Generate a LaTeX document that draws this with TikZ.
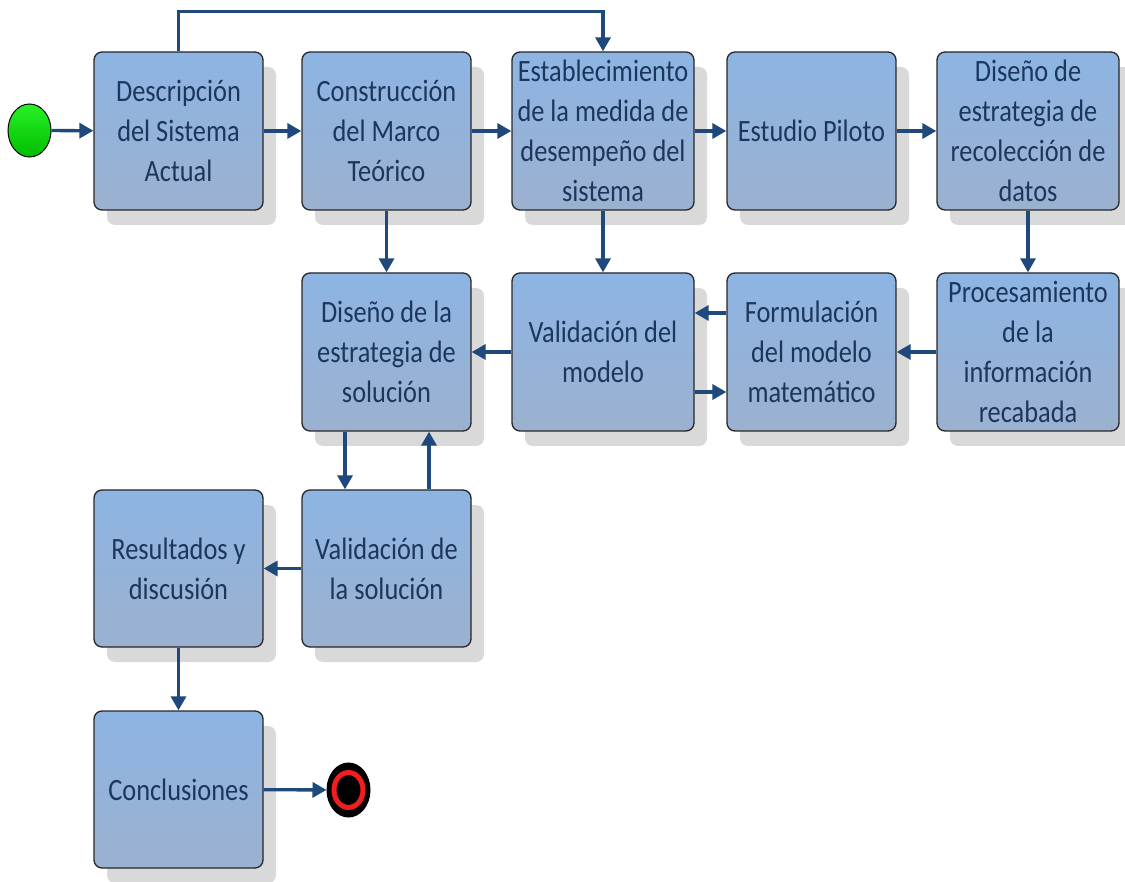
\documentclass[tikz,border=0pt]{standalone}
\usepackage{fontspec}
\setmainfont{Carlito}
\newfontfamily\condfont[FakeStretch=0.85]{Carlito}
\usetikzlibrary{arrows.meta,shapes.geometric,shadows}
\definecolor{boxtop}{RGB}{141,180,227}
\definecolor{boxbot}{RGB}{155,177,208}
\definecolor{txt}{RGB}{28,54,92}
\definecolor{arrc}{RGB}{31,73,125}
\definecolor{shad}{RGB}{217,217,217}
\definecolor{sgreen1}{RGB}{40,240,40}
\definecolor{sgreen2}{RGB}{0,190,0}
\definecolor{ered}{RGB}{240,30,30}
\tikzset{
  proc/.style={draw=black!85, line width=1.3pt, rounded corners=8pt,
    top color=boxtop, bottom color=boxbot,
    drop shadow={shadow xshift=13pt, shadow yshift=-15pt, fill=shad, opacity=1},
    minimum width=169pt, minimum height=158pt, inner sep=0pt,
    align=center, text=txt,
    font=\condfont\fontsize{31}{40}\selectfont},
  wide/.style={minimum width=182pt},
  arr/.style={draw=arrc, line width=3.3pt, -{Triangle[length=14pt,width=15pt]}},
}
\begin{document}
\begin{tikzpicture}[x=1pt,y=-1pt]
\useasboundingbox (0,0) rectangle (1125,882);
% row 1
\node[proc] (desc) at (178.5,131) {Descripción\\del Sistema\\Actual};
\node[proc] (constr) at (386.5,131) {Construcción\\del Marco\\Teórico};
\node[proc,wide] (estab) at (603,131) {Establecimiento\\de la medida de\\desempeño del\\sistema};
\node[proc] (piloto) at (811.5,131) {Estudio Piloto};
\node[proc,wide] (disdat) at (1028,131) {Diseño de\\estrategia de\\recolección de\\datos};
% row 2
\node[proc] (dissol) at (386.5,352) {Diseño de la\\estrategia de\\solución};
\node[proc,wide] (valmod) at (603,352) {Validación del\\modelo};
\node[proc] (form) at (811.5,352) {Formulación\\del modelo\\matemático};
\node[proc,wide] (proces) at (1028,352) {Procesamiento\\de la\\información\\recabada};
% row 3
\node[proc, minimum height=157pt] (result) at (178.5,568.5) {Resultados y\\discusión};
\node[proc, minimum height=157pt] (valsol) at (386.5,568.5) {Validación de\\la solución};
% row 4
\node[proc, minimum height=157pt] (concl) at (178.5,789.5) {Conclusiones};
% start and end
\node[ellipse, draw=black, line width=1pt, top color=sgreen1, bottom color=sgreen2,
  minimum width=43pt, minimum height=53pt, inner sep=0pt] (start) at (29.5,130.5) {};
\node[ellipse, draw=black, fill=black, line width=1pt,
  minimum width=43pt, minimum height=54pt, inner sep=0pt] (endn) at (348.5,790) {};
\node[ellipse, draw=ered, line width=5pt,
  minimum width=29pt, minimum height=35pt, inner sep=0pt] (endring) at (348.5,790) {};
% connectors
\draw[arr] (start) -- (desc);
\draw[arr] (desc) -- (constr);
\draw[arr] (constr) -- (estab);
\draw[arr] (estab) -- (piloto);
\draw[arr] (piloto) -- (disdat);
\draw[arr] (desc.north) -- ++(0,-40) -| (estab.north);
\draw[arr] (constr) -- (dissol);
\draw[arr] (estab) -- (valmod);
\draw[arr] (disdat) -- (proces);
\draw[arr] (proces) -- (form);
\draw[arr] ([yshift=39pt]form.west) -- ([yshift=39pt]valmod.east);
\draw[arr] ([yshift=-40pt]valmod.east) -- ([yshift=-40pt]form.west);
\draw[arr] (valmod) -- (dissol);
\draw[arr] ([xshift=-41.5pt]dissol.south) -- ([xshift=-41.5pt]valsol.north);
\draw[arr] ([xshift=42.5pt]valsol.north) -- ([xshift=42.5pt]dissol.south);
\draw[arr] (valsol) -- (result);
\draw[arr] (result) -- (concl);
\draw[arr] (concl) -- (endn);
\end{tikzpicture}
\end{document}
